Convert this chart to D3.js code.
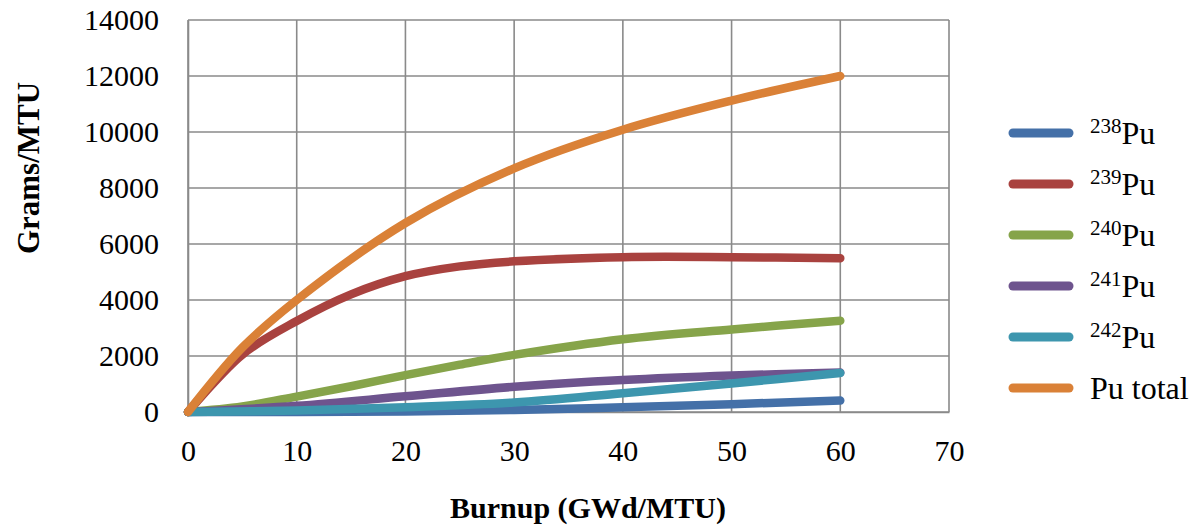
<!DOCTYPE html>
<html>
<head>
<meta charset="utf-8">
<script src="https://cdn.jsdelivr.net/npm/d3@7"></script>
<style>
  html, body { margin: 0; padding: 0; background: #fff; }
  svg { display: block; font-family: "Liberation Serif", "Times New Roman", serif; }
</style>
</head>
<body>
<svg id="chart" width="1197" height="531"></svg>
<script>
// ---- data ----
const xTicks = [0, 10, 20, 30, 40, 50, 60, 70];
const yTicks = [0, 2000, 4000, 6000, 8000, 10000, 12000, 14000];

const pu238X = [0, 10, 20, 30, 40, 50, 60];
const pu238Y = [0, 0, 20, 70, 170, 280, 410];

const pu239X = [0, 5, 10, 15, 20, 25, 30, 40, 50, 60];
const pu239Y = [0, 2050, 3250, 4200, 4850, 5200, 5380, 5530, 5530, 5490];

const pu240X = [0, 5, 10, 15, 20, 25, 30, 40, 50, 60];
const pu240Y = [0, 200, 550, 920, 1320, 1690, 2040, 2600, 2950, 3260];

const pu241X = [0, 10, 20, 30, 40, 50, 60];
const pu241Y = [0, 220, 560, 900, 1140, 1300, 1410];

const pu242X = [0, 10, 20, 30, 40, 50, 60];
const pu242Y = [0, 50, 170, 340, 670, 1020, 1390];

const puTotalX = [0, 5, 10, 20, 30, 40, 50, 60];
const puTotalY = [0, 2300, 4000, 6750, 8700, 10080, 11120, 12000];

const seriesNames = ["238", "239", "240", "241", "242", "Pu total"];
const seriesColors = ["#4470a8", "#a9423f", "#86a44a", "#6e548e", "#3d96ae", "#da8137"];

const series = [
  { mass: "238", xs: pu238X, ys: pu238Y },
  { mass: "239", xs: pu239X, ys: pu239Y },
  { mass: "240", xs: pu240X, ys: pu240Y },
  { mass: "241", xs: pu241X, ys: pu241Y },
  { mass: "242", xs: pu242X, ys: pu242Y },
  { mass: null, xs: puTotalX, ys: puTotalY }
].map((s, i) => ({ ...s, name: seriesNames[i], color: seriesColors[i],
  points: s.xs.map((x, j) => [x, s.ys[j]]) }));

// ---- layout ----
const svg = d3.select("#chart");
const mLeft = 188, mRight = 949, mTop = 20, mBottom = 412;

const x = d3.scaleLinear().domain([0, 70]).range([mLeft, mRight]);
const y = d3.scaleLinear().domain([0, 14000]).range([mBottom, mTop]);

const gridColor = "#8a8a8a";

// grid
svg.append("g").selectAll("line").data(yTicks).join("line")
  .attr("x1", mLeft).attr("x2", mRight)
  .attr("y1", d => y(d)).attr("y2", d => y(d))
  .attr("stroke", gridColor).attr("stroke-width", 1.6);
svg.append("g").selectAll("line").data(xTicks).join("line")
  .attr("y1", mTop).attr("y2", mBottom)
  .attr("x1", d => x(d)).attr("x2", d => x(d))
  .attr("stroke", gridColor).attr("stroke-width", 1.6);

// axes (labels only, via d3 axis)
const xAxis = svg.append("g").attr("transform", `translate(0,${mBottom})`)
  .call(d3.axisBottom(x).tickValues(xTicks).tickSize(0).tickPadding(28).tickFormat(d3.format("d")));
xAxis.select(".domain").attr("stroke", gridColor).attr("stroke-width", 1.6);
xAxis.selectAll("text").attr("font-size", 30).attr("fill", "#000")
  .attr("font-family", "Liberation Serif, serif");

const yAxis = svg.append("g").attr("transform", `translate(${mLeft},0)`)
  .call(d3.axisLeft(y).tickValues(yTicks).tickSize(0).tickPadding(29).tickFormat(d3.format("d")));
yAxis.select(".domain").attr("stroke", gridColor).attr("stroke-width", 1.6);
yAxis.selectAll("text").attr("font-size", 30).attr("fill", "#000")
  .attr("font-family", "Liberation Serif, serif");

// axis titles
svg.append("text")
  .attr("x", 588).attr("y", 518)
  .attr("text-anchor", "middle")
  .attr("font-size", 30).attr("font-weight", "bold")
  .text("Burnup (GWd/MTU)");

svg.append("text")
  .attr("transform", "translate(39,168) rotate(-90)")
  .attr("text-anchor", "middle")
  .attr("font-size", 31).attr("font-weight", "bold")
  .text("Grams/MTU");

// lines
const line = d3.line()
  .x(d => x(d[0])).y(d => y(d[1]))
  .curve(d3.curveCatmullRom.alpha(0.5));

svg.append("g").selectAll("path").data(series).join("path")
  .attr("d", d => line(d.points))
  .attr("fill", "none")
  .attr("stroke", d => d.color)
  .attr("stroke-width", 8.5)
  .attr("stroke-linecap", "round")
  .attr("stroke-linejoin", "round");

// legend
const legend = svg.append("g");
const rowY = i => 133 + i * 51;
legend.selectAll("line").data(series).join("line")
  .attr("x1", 1013).attr("x2", 1069)
  .attr("y1", (d, i) => rowY(i)).attr("y2", (d, i) => rowY(i))
  .attr("stroke", d => d.color).attr("stroke-width", 9)
  .attr("stroke-linecap", "round");

const texts = legend.selectAll("text").data(series).join("text")
  .attr("x", 1090).attr("y", (d, i) => rowY(i) + 11)
  .attr("font-size", 32).attr("fill", "#000");
texts.each(function (d) {
  const t = d3.select(this);
  if (d.mass) {
    t.append("tspan").attr("font-size", 21).attr("dy", -11).text(d.mass);
    t.append("tspan").attr("dy", 11).text("Pu");
  } else {
    t.text(d.name);
  }
});
</script>
</body>
</html>
